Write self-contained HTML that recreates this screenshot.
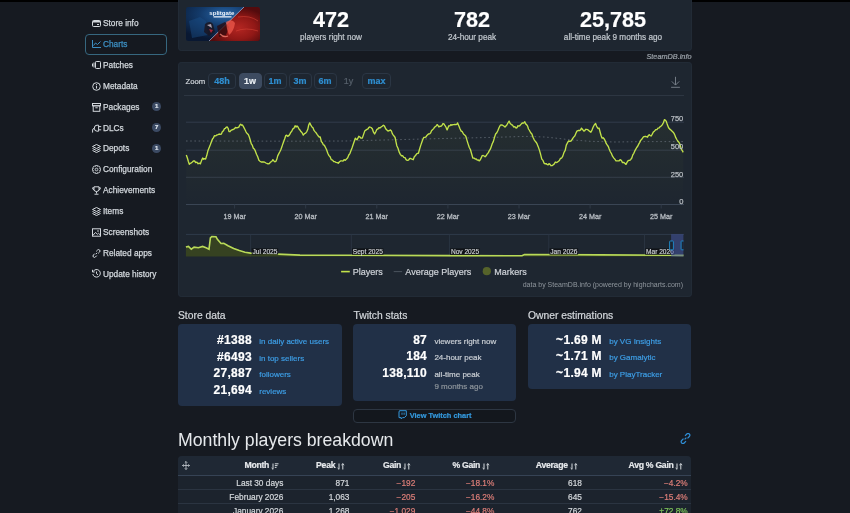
<!DOCTYPE html>
<html><head><meta charset="utf-8">
<style>
*{box-sizing:border-box;margin:0;padding:0}
html,body{width:850px;height:513px;overflow:hidden;background:#161a21;font-family:"Liberation Sans",Arial,sans-serif;color:#c7ccd2;-webkit-text-stroke:0.2px currentColor}
.abs{position:absolute}
#topbar{left:0;top:0;width:850px;height:2px;background:#000}
/* sidebar */
.nav{position:absolute;left:92px;font-size:8.3px;color:#d3d8dd;-webkit-text-stroke:0.25px currentColor;line-height:10px;white-space:nowrap}
.nav svg{position:absolute;left:0;top:1px}
.nav span{position:absolute;left:11px;top:0}
.badge{position:absolute;left:152.2px;width:8.8px;height:8.8px;border-radius:50%;background:#3b4a63;color:#dfe6ee;font-size:6px;font-weight:bold;text-align:center;line-height:9px}
#charts-box{left:85px;top:34px;width:82px;height:21px;border:1px solid #36677f;border-radius:4px;background:#151920}
/* panels */
.panel{position:absolute;background:#1e2630;border-radius:4px;box-shadow:inset 0 0 0 1px #222b36}
.stat{position:absolute;top:0;width:141px;text-align:center}
.stat b{display:block;font-size:21.6px;line-height:24px;color:#fff;margin-top:7.6px;letter-spacing:0}
.stat i{display:block;font-style:normal;font-size:8.2px;color:#c3c9cf;line-height:10px;margin-top:1px}
.zb{position:absolute;top:73px;height:16px;border:1px solid #2b3644;border-radius:4px;font-size:9px;font-weight:bold;color:#2f8ed0;text-align:center;line-height:14px}
h3{position:absolute;font-size:10.3px;font-weight:normal;color:#d4d8dc;white-space:nowrap}
.box{position:absolute;background:#213047;border-radius:4px}
.row{position:absolute;left:0;width:100%;display:flex;align-items:baseline;white-space:nowrap;line-height:14px}
.row .n{width:50%;text-align:right;padding-right:7.8px;font-weight:bold;font-size:12px;color:#fff;letter-spacing:0.3px}
.row .l{width:50%;margin-left:-0.5px;font-size:8px;color:#3d9de4}
.row .g{color:#8d949b}
.row .w{color:#c9ced4}
table{border-collapse:collapse}
</style></head><body>
<div id="topbar" class="abs"></div>

<!-- Sidebar -->
<div id="charts-box" class="abs"></div>
<div class="nav" style="top:18.2px"><svg style="top:1.6px" width="9" height="7" viewBox="0 0 9 7"><rect x="0.5" y="0.5" width="8" height="6" rx="1" fill="none" stroke="#d3d8dd" stroke-width="1"/><rect x="1" y="1" width="7" height="1.5" fill="#d3d8dd"/><rect x="5" y="4" width="2" height="1" fill="#d3d8dd"/></svg><span>Store info</span></div>
<div class="nav" style="top:39.1px;color:#3c8fc2"><svg width="9" height="8" viewBox="0 0 9 8"><path d="M0.5 0 V7.5 H9" fill="none" stroke="#3c8fc2" stroke-width="1"/><path d="M1.5 5.5 L3.5 3 L5.5 4.5 L8.5 1.5" fill="none" stroke="#3c8fc2" stroke-width="1"/></svg><span>Charts</span></div>
<div class="nav" style="top:59.9px"><svg width="9" height="8" viewBox="0 0 9 8"><rect x="3.5" y="0.5" width="5" height="7" rx="0.8" fill="none" stroke="#d3d8dd"/><path d="M2 1.5 V6.5 M0.5 2.5 V5.5" stroke="#d3d8dd" stroke-width="1"/></svg><span>Patches</span></div>
<div class="nav" style="top:80.8px"><svg width="9" height="9" viewBox="0 0 9 9"><circle cx="4.5" cy="4.5" r="3.8" fill="none" stroke="#d3d8dd"/><path d="M4.5 3.8 V6.6" stroke="#d3d8dd" stroke-width="1.1"/><circle cx="4.5" cy="2.6" r="0.6" fill="#d3d8dd"/></svg><span>Metadata</span></div>
<div class="nav" style="top:101.7px"><svg width="9" height="9" viewBox="0 0 9 9"><rect x="0.5" y="0.5" width="8" height="2.3" fill="none" stroke="#d3d8dd"/><rect x="1.2" y="2.8" width="6.6" height="5.5" fill="none" stroke="#d3d8dd"/><path d="M3.3 4.8 H5.7" stroke="#d3d8dd"/></svg><span>Packages</span></div>
<div class="badge" style="top:102.3px">1</div>
<div class="nav" style="top:122.6px"><svg width="10" height="9" viewBox="0 0 10 9"><path d="M0.6 8.6 V6 Q0.6 4.6 2.2 4.4" fill="none" stroke="#d3d8dd" stroke-width="1"/><path d="M6.6 1.2 V7.2 H5 Q2.3 7.2 2.3 4.2 Q2.3 1.2 5 1.2 Z" fill="none" stroke="#d3d8dd" stroke-width="1"/><path d="M6.6 2.6 H9.2 M6.6 5.8 H9.2" stroke="#d3d8dd" stroke-width="1"/></svg><span>DLCs</span></div>
<div class="badge" style="top:123.2px">7</div>
<div class="nav" style="top:143.4px"><svg width="9" height="9" viewBox="0 0 9 9"><path d="M4.5 0.5 L8.5 2.5 L4.5 4.5 L0.5 2.5 Z M0.5 4.5 L4.5 6.5 L8.5 4.5 M0.5 6.5 L4.5 8.5 L8.5 6.5" fill="none" stroke="#d3d8dd" stroke-linejoin="round"/></svg><span>Depots</span></div>
<div class="badge" style="top:144.0px">1</div>
<div class="nav" style="top:164.3px"><svg width="9" height="9" viewBox="0 0 9 9"><path d="M7.38 3.35 L8.59 3.56 L8.59 5.44 L7.38 5.65 L7.35 5.72 L8.06 6.73 L6.73 8.06 L5.72 7.35 L5.65 7.38 L5.44 8.59 L3.56 8.59 L3.35 7.38 L3.28 7.35 L2.27 8.06 L0.94 6.73 L1.65 5.72 L1.62 5.65 L0.41 5.44 L0.41 3.56 L1.62 3.35 L1.65 3.28 L0.94 2.27 L2.27 0.94 L3.28 1.65 L3.35 1.62 L3.56 0.41 L5.44 0.41 L5.65 1.62 L5.72 1.65 L6.73 0.94 L8.06 2.27 L7.35 3.28 Z" fill="none" stroke="#d3d8dd" stroke-width="0.9" stroke-linejoin="round"/><circle cx="4.5" cy="4.5" r="1.3" fill="none" stroke="#d3d8dd" stroke-width="0.9"/></svg><span>Configuration</span></div>
<div class="nav" style="top:185.2px"><svg width="9" height="9" viewBox="0 0 9 9"><path d="M2 0.8 H7 V3.5 Q7 5.5 4.5 5.5 Q2 5.5 2 3.5 Z M4.5 5.5 V7.5 M2.5 8.2 H6.5 M2 1.8 H0.6 Q0.6 3.8 2.2 4 M7 1.8 H8.4 Q8.4 3.8 6.8 4" fill="none" stroke="#d3d8dd"/></svg><span>Achievements</span></div>
<div class="nav" style="top:206.0px"><svg width="9" height="9" viewBox="0 0 9 9"><path d="M4.5 0.5 L8.5 2.5 L4.5 4.5 L0.5 2.5 Z M0.5 4.5 L4.5 6.5 L8.5 4.5 M0.5 6.5 L4.5 8.5 L8.5 6.5" fill="none" stroke="#d3d8dd" stroke-linejoin="round"/></svg><span>Items</span></div>
<div class="nav" style="top:226.9px"><svg width="9" height="9" viewBox="0 0 9 9"><rect x="0.5" y="0.8" width="8" height="7.4" fill="none" stroke="#d3d8dd"/><path d="M0.8 7.5 L3.5 4.5 L5.5 6.2 L6.5 5.3 L8.3 7" fill="none" stroke="#d3d8dd"/><circle cx="6" cy="3" r="0.8" fill="#d3d8dd"/></svg><span>Screenshots</span></div>
<div class="nav" style="top:247.8px"><svg width="9" height="9" viewBox="0 0 9 9"><path d="M3.8 5.2 L5.2 3.8 M4.2 2.4 L5.6 1 Q6.6 0 7.6 1 Q8.6 2 7.6 3 L6.2 4.4 M4.8 6.6 L3.4 8 Q2.4 9 1.4 8 Q0.4 7 1.4 6 L2.8 4.6" fill="none" stroke="#d3d8dd"/></svg><span>Related apps</span></div>
<div class="nav" style="top:268.6px"><svg style="top:0" width="9" height="9" viewBox="0 0 9 9"><path d="M1.2 2.5 A3.8 3.8 0 1 1 0.8 5" fill="none" stroke="#d3d8dd"/><path d="M0.5 0.8 V3 H2.7" fill="none" stroke="#d3d8dd"/><path d="M4.5 2.5 V4.7 L6 5.8" fill="none" stroke="#d3d8dd"/></svg><span>Update history</span></div>

<!-- header panel -->
<div class="panel" style="left:178px;top:-4px;width:513.5px;height:55px"></div>
<div class="abs" style="left:186.4px;top:7.4px;width:74px;height:34px;border-radius:2px;overflow:hidden">
<svg width="74" height="34" viewBox="0 0 74 34">
<defs>
<radialGradient id="gb" cx="0.52" cy="0.22" r="0.75"><stop offset="0" stop-color="#2866a8"/><stop offset="0.45" stop-color="#133a6a"/><stop offset="1" stop-color="#091832"/></radialGradient>
<radialGradient id="gr" cx="0.58" cy="0.62" r="0.6"><stop offset="0" stop-color="#b42622"/><stop offset="0.55" stop-color="#911816"/><stop offset="1" stop-color="#530b0d"/></radialGradient>
</defs>
<rect width="74" height="34" fill="url(#gb)"/>
<path d="M58 0 H74 V34 H23 Z" fill="url(#gr)"/>
<path d="M58 0 L23 34" stroke="#a9bde0" stroke-width="0.7"/>
<text x="35.8" y="7.6" font-size="6.1" font-weight="bold" fill="#eef3fa" text-anchor="middle" font-family="Liberation Sans" style="-webkit-text-stroke:0">splitgate</text>
<rect x="27.5" y="9.2" width="18" height="1.3" fill="#e2eaf6"/>
<path d="M3 14 L14 10 L20 14 L22 28 L6 31 Z" fill="#1a4f8a" opacity="0.45"/>
<path d="M19 17 Q24 13 27 17 L29 25 L23 29 L18 25 Z" fill="#1a1622" opacity="0.85"/>
<path d="M21 18 L25 17 L26 21 Z" fill="#e9d9e6" opacity="0.7"/>
<path d="M23 22 L27 23 L25 26 Z" fill="#c4243a" opacity="0.8"/>
<path d="M31 19 L39 15 L43 20 L40 28 L33 30 Z" fill="#2a0a0e" opacity="0.75"/>
<path d="M40 15 Q46 11 49 16 Q48 24 43 28 L41 22 Z" fill="#ef5a4c" opacity="0.75"/>
<path d="M34 27 Q38 31 42 29" stroke="#f08070" stroke-width="1.2" fill="none" opacity="0.8"/>
<path d="M52 10 Q64 8 72 14 M50 24 Q60 20 72 24" stroke="#e04a3c" stroke-width="1" fill="none" opacity="0.5"/>
</svg></div>
<div class="stat" style="left:260.5px"><b>472</b><i>players right now</i></div>
<div class="stat" style="left:401.5px"><b>782</b><i>24-hour peak</i></div>
<div class="stat" style="left:542.5px"><b>25,785</b><i>all-time peak 9 months ago</i></div>
<div class="abs" style="left:600px;top:51.6px;width:91.5px;text-align:right;font-size:7.3px;font-style:italic;color:#9aa1a8;line-height:10px">SteamDB.info</div>

<!-- chart panel -->
<div class="panel" style="left:178px;top:62px;width:513.5px;height:235px"></div>
<div class="abs" style="left:185.5px;top:76.5px;font-size:7.7px;color:#d0d5da;line-height:10px">Zoom</div>
<div class="zb" style="left:208px;width:28px">48h</div>
<div class="zb" style="left:238.5px;width:23px;background:#3d4b60;border-color:#3d4b60;color:#e8edf2">1w</div>
<div class="zb" style="left:263.5px;width:23px">1m</div>
<div class="zb" style="left:288.5px;width:23px">3m</div>
<div class="zb" style="left:313.5px;width:23px">6m</div>
<div class="zb" style="left:338.5px;width:20px;border-color:transparent;color:#56606b;font-weight:normal">1y</div>
<div class="zb" style="left:362px;width:29px">max</div>
<svg class="abs" style="left:669px;top:75px" width="14" height="14" viewBox="0 0 14 14"><path d="M6.5 1.8 V10 M2.8 6.4 L6.5 10.1 L10.2 6.4 M2.1 12.3 H10.9" fill="none" stroke="#7d858f" stroke-width="0.9"/></svg>
<div class="abs" style="left:184px;top:95px;width:500px;height:1px;background:#2d3642"></div>

<svg class="abs" style="left:0;top:0" width="850" height="300" viewBox="0 0 850 300">
<defs><linearGradient id="af" x1="0" y1="0" x2="0" y2="1"><stop offset="0" stop-color="#c5e32b" stop-opacity="0.045"/><stop offset="1" stop-color="#c5e32b" stop-opacity="0.0"/></linearGradient></defs>
<path d="M186 122.2 H684" stroke="#323c4a" stroke-width="1"/>
<path d="M186 150.2 H684" stroke="#323c4a" stroke-width="1"/>
<path d="M186 177.3 H684" stroke="#323c4a" stroke-width="1"/>
<path d="M186.3,155.0 L187.3,157.7 L188.3,161.3 L189.3,164.4 L190.3,163.3 L191.4,162.8 L192.4,162.0 L193.4,160.9 L194.6,161.0 L195.7,162.6 L196.9,162.1 L198.1,163.8 L199.2,163.1 L200.4,163.8 L201.6,160.4 L202.7,158.0 L203.7,159.2 L204.6,158.7 L205.6,159.1 L206.8,155.3 L208.0,150.4 L209.2,147.4 L210.3,144.8 L211.5,141.6 L212.5,139.0 L213.4,137.9 L214.4,135.7 L215.6,135.9 L216.8,134.9 L217.9,134.8 L219.1,134.0 L220.2,134.3 L221.4,134.0 L222.4,131.5 L223.4,130.9 L224.4,128.7 L225.4,128.3 L226.3,127.2 L227.3,127.0 L228.2,128.5 L229.0,131.6 L230.0,131.7 L231.0,130.4 L232.0,129.9 L233.2,129.5 L234.3,128.9 L235.5,127.5 L236.7,127.9 L237.8,127.5 L238.8,127.1 L239.7,125.2 L240.7,124.3 L241.6,125.2 L242.5,125.0 L243.7,127.1 L244.8,129.3 L246.0,131.8 L247.1,133.5 L248.3,134.6 L249.3,137.0 L250.3,140.2 L251.3,143.9 L252.3,145.2 L253.3,148.2 L254.3,149.0 L255.3,150.9 L256.5,154.2 L257.7,156.8 L258.9,160.3 L260.0,161.2 L261.2,162.0 L262.4,161.8 L263.5,162.0 L264.7,162.2 L265.9,163.0 L267.0,163.5 L268.2,163.8 L269.4,163.5 L270.5,162.1 L271.7,161.5 L272.9,159.7 L273.9,160.9 L274.8,161.7 L275.8,161.5 L276.8,159.3 L277.7,155.9 L278.7,153.9 L279.7,152.0 L280.8,149.7 L281.8,147.1 L282.8,143.9 L283.8,141.3 L284.7,138.8 L285.7,135.7 L286.7,135.2 L287.7,136.3 L288.7,135.7 L289.7,134.5 L290.6,132.6 L291.6,131.6 L292.8,128.9 L293.9,128.3 L295.1,125.8 L296.1,127.0 L297.0,125.9 L298.0,127.0 L299.0,129.0 L299.9,129.9 L300.9,131.6 L302.1,132.8 L303.3,135.1 L304.5,133.6 L305.6,133.2 L306.8,131.6 L307.8,129.3 L308.7,125.0 L309.7,122.9 L310.9,125.1 L312.0,127.0 L313.0,127.8 L314.0,130.4 L315.0,131.6 L316.1,132.8 L317.3,134.6 L318.3,136.0 L319.2,137.0 L320.2,136.9 L321.4,141.6 L322.4,142.8 L323.3,144.8 L324.3,145.1 L325.5,147.5 L326.6,149.8 L327.8,153.3 L329.0,155.6 L330.1,156.8 L331.3,159.7 L332.5,160.1 L333.7,161.5 L334.9,161.7 L336.0,162.4 L337.2,162.6 L338.3,163.2 L339.5,161.8 L340.6,160.9 L341.8,160.9 L343.0,161.1 L344.1,159.7 L345.3,160.3 L346.5,159.1 L347.7,157.8 L348.8,155.0 L350.0,153.3 L351.0,150.5 L352.0,147.9 L353.0,145.1 L354.1,141.8 L355.3,138.1 L356.1,139.1 L357.0,139.8 L357.9,138.2 L358.8,136.3 L360.0,137.1 L361.1,138.2 L362.3,138.1 L363.5,134.6 L364.7,131.1 L365.9,130.1 L367.0,129.3 L368.0,128.9 L368.9,127.3 L369.9,127.0 L371.1,127.5 L372.3,128.7 L373.5,132.2 L374.6,134.0 L375.8,131.7 L376.9,129.3 L377.9,129.0 L378.9,127.7 L379.9,128.1 L381.1,127.0 L382.2,126.3 L383.4,125.2 L384.5,126.1 L385.7,128.7 L386.9,130.1 L388.0,131.1 L389.2,130.7 L390.4,129.9 L391.4,130.9 L392.3,133.6 L393.3,135.1 L394.2,136.2 L395.1,137.5 L396.0,141.9 L396.8,145.7 L398.0,148.3 L399.1,151.9 L400.3,154.4 L401.5,155.8 L402.6,155.6 L403.8,157.4 L405.0,157.6 L406.1,159.6 L407.3,160.3 L408.5,160.2 L409.7,158.5 L410.9,158.5 L412.0,159.2 L413.2,159.7 L414.3,156.8 L415.5,155.5 L416.7,153.9 L417.5,153.3 L418.4,153.3 L419.6,149.0 L420.8,145.1 L421.8,142.2 L422.7,139.8 L423.7,137.5 L424.9,137.4 L426.0,136.9 L426.9,135.4 L427.8,134.6 L428.8,133.8 L429.7,133.9 L430.7,132.8 L431.6,130.5 L432.5,129.9 L433.6,128.6 L434.8,127.0 L436.0,126.2 L437.1,124.6 L438.0,125.5 L438.9,127.0 L439.8,126.2 L440.7,126.4 L441.9,125.5 L443.0,123.5 L443.9,123.9 L444.7,125.2 L445.9,127.0 L447.1,129.9 L448.0,127.7 L448.8,125.8 L449.8,125.9 L450.8,124.7 L451.8,125.2 L453.0,124.6 L454.1,124.6 L455.0,124.3 L455.9,124.6 L456.8,124.3 L457.6,122.9 L458.8,125.7 L460.0,128.7 L461.2,131.1 L462.3,131.7 L463.5,134.0 L464.6,134.9 L465.8,136.3 L467.0,140.4 L468.1,143.9 L469.3,147.5 L470.5,149.8 L471.6,153.8 L472.8,158.0 L474.0,158.1 L475.2,159.1 L476.2,158.9 L477.2,160.1 L478.3,159.9 L479.3,160.9 L480.3,159.7 L481.2,157.9 L482.2,155.6 L483.2,155.5 L484.1,156.0 L485.1,156.8 L486.1,155.8 L487.1,154.1 L488.2,152.9 L489.2,150.9 L490.3,149.2 L491.3,146.4 L492.3,143.5 L493.3,141.6 L494.5,137.4 L495.6,134.0 L496.8,132.7 L497.9,130.5 L499.1,127.5 L500.3,125.2 L501.5,124.9 L502.6,125.2 L503.8,126.0 L505.0,127.0 L505.9,126.0 L506.7,125.2 L507.9,123.0 L509.1,121.1 L510.2,123.6 L511.4,124.6 L512.5,125.2 L513.7,127.0 L514.9,126.7 L516.1,128.1 L517.0,127.7 L517.8,125.8 L518.8,126.0 L519.7,125.8 L520.7,124.6 L521.6,123.6 L522.5,122.9 L523.6,123.1 L524.8,121.7 L525.7,123.9 L526.6,124.6 L527.6,126.1 L528.5,129.0 L529.5,130.5 L530.7,132.8 L531.9,134.0 L533.0,137.2 L534.2,139.8 L535.2,141.2 L536.1,142.2 L537.1,143.9 L538.3,146.9 L539.5,150.4 L540.6,154.3 L541.8,159.1 L543.0,160.4 L544.1,163.2 L545.1,163.8 L546.1,163.6 L547.1,164.4 L548.1,164.9 L549.0,163.6 L550.0,164.4 L551.1,165.7 L552.3,165.6 L553.3,164.7 L554.3,163.9 L555.3,162.0 L556.3,162.5 L557.2,162.3 L558.2,161.5 L559.4,160.5 L560.5,158.3 L561.7,158.0 L562.9,155.9 L564.0,152.4 L565.2,150.4 L566.3,145.1 L567.5,142.7 L568.7,141.0 L569.9,141.3 L571.0,141.0 L572.0,139.7 L572.9,138.1 L573.9,136.9 L574.9,135.7 L575.9,133.2 L576.9,131.1 L577.9,130.6 L578.8,130.3 L579.8,130.5 L580.6,129.9 L581.5,128.1 L582.7,129.6 L583.9,131.1 L584.8,130.7 L585.6,129.3 L586.6,129.4 L587.6,129.6 L588.6,130.5 L589.8,131.4 L590.9,132.2 L592.0,130.1 L593.2,127.0 L594.4,124.7 L595.6,123.5 L596.5,126.0 L597.3,127.5 L598.2,128.5 L599.1,128.1 L600.1,132.0 L601.0,135.3 L602.0,138.1 L603.2,137.8 L604.4,139.2 L605.4,141.4 L606.3,143.7 L607.3,145.1 L608.3,146.5 L609.2,149.0 L610.2,151.5 L611.4,153.5 L612.5,156.2 L613.7,157.8 L614.8,159.2 L616.0,160.9 L617.2,160.9 L618.4,160.9 L619.2,160.8 L620.1,159.7 L621.3,160.3 L622.5,162.6 L623.7,162.4 L624.8,163.2 L626.0,164.4 L627.0,162.4 L627.9,160.9 L628.9,160.3 L629.9,160.3 L630.8,159.4 L631.8,158.0 L632.8,154.9 L633.8,153.3 L634.8,150.9 L635.8,149.1 L636.7,147.5 L637.7,146.3 L638.7,144.1 L639.6,142.6 L640.6,140.4 L641.7,139.3 L642.9,137.6 L644.0,136.6 L645.2,136.3 L646.3,136.7 L647.5,137.2 L648.4,135.4 L649.3,134.8 L650.1,135.5 L651.0,136.0 L652.2,134.3 L653.4,131.9 L654.6,130.9 L655.7,129.7 L656.9,129.6 L658.0,128.2 L659.2,127.8 L660.2,126.6 L661.2,126.0 L662.2,124.9 L663.4,122.7 L664.5,119.6 L665.4,120.3 L666.3,121.4 L667.5,125.1 L668.6,127.8 L669.5,128.9 L670.4,129.6 L671.6,130.7 L672.7,131.7 L673.9,133.1 L674.9,135.2 L675.8,137.7 L676.8,139.5 L678.0,141.3 L678.9,142.3 L679.7,143.6 L680.6,146.8 L681.5,149.4 L682.4,150.8 L683.2,152.4 L683.2,204.5 L186.3,204.5 Z" fill="url(#af)"/>
<path d="M186.0,141.0 L300.0,141.2 L345.0,141.0 L400.0,139.6 L440.0,138.6 L492.0,137.4 L525.0,136.4 L545.0,137.0 L560.0,138.6 L568.0,139.6 L590.0,141.3 L615.0,142.0 L644.0,141.6 L683.5,141.6" fill="none" stroke="#6a727d" stroke-width="0.7" stroke-dasharray="1.6 2.6"/>
<path d="M186.3,155.0 L187.3,157.7 L188.3,161.3 L189.3,164.4 L190.3,163.3 L191.4,162.8 L192.4,162.0 L193.4,160.9 L194.6,161.0 L195.7,162.6 L196.9,162.1 L198.1,163.8 L199.2,163.1 L200.4,163.8 L201.6,160.4 L202.7,158.0 L203.7,159.2 L204.6,158.7 L205.6,159.1 L206.8,155.3 L208.0,150.4 L209.2,147.4 L210.3,144.8 L211.5,141.6 L212.5,139.0 L213.4,137.9 L214.4,135.7 L215.6,135.9 L216.8,134.9 L217.9,134.8 L219.1,134.0 L220.2,134.3 L221.4,134.0 L222.4,131.5 L223.4,130.9 L224.4,128.7 L225.4,128.3 L226.3,127.2 L227.3,127.0 L228.2,128.5 L229.0,131.6 L230.0,131.7 L231.0,130.4 L232.0,129.9 L233.2,129.5 L234.3,128.9 L235.5,127.5 L236.7,127.9 L237.8,127.5 L238.8,127.1 L239.7,125.2 L240.7,124.3 L241.6,125.2 L242.5,125.0 L243.7,127.1 L244.8,129.3 L246.0,131.8 L247.1,133.5 L248.3,134.6 L249.3,137.0 L250.3,140.2 L251.3,143.9 L252.3,145.2 L253.3,148.2 L254.3,149.0 L255.3,150.9 L256.5,154.2 L257.7,156.8 L258.9,160.3 L260.0,161.2 L261.2,162.0 L262.4,161.8 L263.5,162.0 L264.7,162.2 L265.9,163.0 L267.0,163.5 L268.2,163.8 L269.4,163.5 L270.5,162.1 L271.7,161.5 L272.9,159.7 L273.9,160.9 L274.8,161.7 L275.8,161.5 L276.8,159.3 L277.7,155.9 L278.7,153.9 L279.7,152.0 L280.8,149.7 L281.8,147.1 L282.8,143.9 L283.8,141.3 L284.7,138.8 L285.7,135.7 L286.7,135.2 L287.7,136.3 L288.7,135.7 L289.7,134.5 L290.6,132.6 L291.6,131.6 L292.8,128.9 L293.9,128.3 L295.1,125.8 L296.1,127.0 L297.0,125.9 L298.0,127.0 L299.0,129.0 L299.9,129.9 L300.9,131.6 L302.1,132.8 L303.3,135.1 L304.5,133.6 L305.6,133.2 L306.8,131.6 L307.8,129.3 L308.7,125.0 L309.7,122.9 L310.9,125.1 L312.0,127.0 L313.0,127.8 L314.0,130.4 L315.0,131.6 L316.1,132.8 L317.3,134.6 L318.3,136.0 L319.2,137.0 L320.2,136.9 L321.4,141.6 L322.4,142.8 L323.3,144.8 L324.3,145.1 L325.5,147.5 L326.6,149.8 L327.8,153.3 L329.0,155.6 L330.1,156.8 L331.3,159.7 L332.5,160.1 L333.7,161.5 L334.9,161.7 L336.0,162.4 L337.2,162.6 L338.3,163.2 L339.5,161.8 L340.6,160.9 L341.8,160.9 L343.0,161.1 L344.1,159.7 L345.3,160.3 L346.5,159.1 L347.7,157.8 L348.8,155.0 L350.0,153.3 L351.0,150.5 L352.0,147.9 L353.0,145.1 L354.1,141.8 L355.3,138.1 L356.1,139.1 L357.0,139.8 L357.9,138.2 L358.8,136.3 L360.0,137.1 L361.1,138.2 L362.3,138.1 L363.5,134.6 L364.7,131.1 L365.9,130.1 L367.0,129.3 L368.0,128.9 L368.9,127.3 L369.9,127.0 L371.1,127.5 L372.3,128.7 L373.5,132.2 L374.6,134.0 L375.8,131.7 L376.9,129.3 L377.9,129.0 L378.9,127.7 L379.9,128.1 L381.1,127.0 L382.2,126.3 L383.4,125.2 L384.5,126.1 L385.7,128.7 L386.9,130.1 L388.0,131.1 L389.2,130.7 L390.4,129.9 L391.4,130.9 L392.3,133.6 L393.3,135.1 L394.2,136.2 L395.1,137.5 L396.0,141.9 L396.8,145.7 L398.0,148.3 L399.1,151.9 L400.3,154.4 L401.5,155.8 L402.6,155.6 L403.8,157.4 L405.0,157.6 L406.1,159.6 L407.3,160.3 L408.5,160.2 L409.7,158.5 L410.9,158.5 L412.0,159.2 L413.2,159.7 L414.3,156.8 L415.5,155.5 L416.7,153.9 L417.5,153.3 L418.4,153.3 L419.6,149.0 L420.8,145.1 L421.8,142.2 L422.7,139.8 L423.7,137.5 L424.9,137.4 L426.0,136.9 L426.9,135.4 L427.8,134.6 L428.8,133.8 L429.7,133.9 L430.7,132.8 L431.6,130.5 L432.5,129.9 L433.6,128.6 L434.8,127.0 L436.0,126.2 L437.1,124.6 L438.0,125.5 L438.9,127.0 L439.8,126.2 L440.7,126.4 L441.9,125.5 L443.0,123.5 L443.9,123.9 L444.7,125.2 L445.9,127.0 L447.1,129.9 L448.0,127.7 L448.8,125.8 L449.8,125.9 L450.8,124.7 L451.8,125.2 L453.0,124.6 L454.1,124.6 L455.0,124.3 L455.9,124.6 L456.8,124.3 L457.6,122.9 L458.8,125.7 L460.0,128.7 L461.2,131.1 L462.3,131.7 L463.5,134.0 L464.6,134.9 L465.8,136.3 L467.0,140.4 L468.1,143.9 L469.3,147.5 L470.5,149.8 L471.6,153.8 L472.8,158.0 L474.0,158.1 L475.2,159.1 L476.2,158.9 L477.2,160.1 L478.3,159.9 L479.3,160.9 L480.3,159.7 L481.2,157.9 L482.2,155.6 L483.2,155.5 L484.1,156.0 L485.1,156.8 L486.1,155.8 L487.1,154.1 L488.2,152.9 L489.2,150.9 L490.3,149.2 L491.3,146.4 L492.3,143.5 L493.3,141.6 L494.5,137.4 L495.6,134.0 L496.8,132.7 L497.9,130.5 L499.1,127.5 L500.3,125.2 L501.5,124.9 L502.6,125.2 L503.8,126.0 L505.0,127.0 L505.9,126.0 L506.7,125.2 L507.9,123.0 L509.1,121.1 L510.2,123.6 L511.4,124.6 L512.5,125.2 L513.7,127.0 L514.9,126.7 L516.1,128.1 L517.0,127.7 L517.8,125.8 L518.8,126.0 L519.7,125.8 L520.7,124.6 L521.6,123.6 L522.5,122.9 L523.6,123.1 L524.8,121.7 L525.7,123.9 L526.6,124.6 L527.6,126.1 L528.5,129.0 L529.5,130.5 L530.7,132.8 L531.9,134.0 L533.0,137.2 L534.2,139.8 L535.2,141.2 L536.1,142.2 L537.1,143.9 L538.3,146.9 L539.5,150.4 L540.6,154.3 L541.8,159.1 L543.0,160.4 L544.1,163.2 L545.1,163.8 L546.1,163.6 L547.1,164.4 L548.1,164.9 L549.0,163.6 L550.0,164.4 L551.1,165.7 L552.3,165.6 L553.3,164.7 L554.3,163.9 L555.3,162.0 L556.3,162.5 L557.2,162.3 L558.2,161.5 L559.4,160.5 L560.5,158.3 L561.7,158.0 L562.9,155.9 L564.0,152.4 L565.2,150.4 L566.3,145.1 L567.5,142.7 L568.7,141.0 L569.9,141.3 L571.0,141.0 L572.0,139.7 L572.9,138.1 L573.9,136.9 L574.9,135.7 L575.9,133.2 L576.9,131.1 L577.9,130.6 L578.8,130.3 L579.8,130.5 L580.6,129.9 L581.5,128.1 L582.7,129.6 L583.9,131.1 L584.8,130.7 L585.6,129.3 L586.6,129.4 L587.6,129.6 L588.6,130.5 L589.8,131.4 L590.9,132.2 L592.0,130.1 L593.2,127.0 L594.4,124.7 L595.6,123.5 L596.5,126.0 L597.3,127.5 L598.2,128.5 L599.1,128.1 L600.1,132.0 L601.0,135.3 L602.0,138.1 L603.2,137.8 L604.4,139.2 L605.4,141.4 L606.3,143.7 L607.3,145.1 L608.3,146.5 L609.2,149.0 L610.2,151.5 L611.4,153.5 L612.5,156.2 L613.7,157.8 L614.8,159.2 L616.0,160.9 L617.2,160.9 L618.4,160.9 L619.2,160.8 L620.1,159.7 L621.3,160.3 L622.5,162.6 L623.7,162.4 L624.8,163.2 L626.0,164.4 L627.0,162.4 L627.9,160.9 L628.9,160.3 L629.9,160.3 L630.8,159.4 L631.8,158.0 L632.8,154.9 L633.8,153.3 L634.8,150.9 L635.8,149.1 L636.7,147.5 L637.7,146.3 L638.7,144.1 L639.6,142.6 L640.6,140.4 L641.7,139.3 L642.9,137.6 L644.0,136.6 L645.2,136.3 L646.3,136.7 L647.5,137.2 L648.4,135.4 L649.3,134.8 L650.1,135.5 L651.0,136.0 L652.2,134.3 L653.4,131.9 L654.6,130.9 L655.7,129.7 L656.9,129.6 L658.0,128.2 L659.2,127.8 L660.2,126.6 L661.2,126.0 L662.2,124.9 L663.4,122.7 L664.5,119.6 L665.4,120.3 L666.3,121.4 L667.5,125.1 L668.6,127.8 L669.5,128.9 L670.4,129.6 L671.6,130.7 L672.7,131.7 L673.9,133.1 L674.9,135.2 L675.8,137.7 L676.8,139.5 L678.0,141.3 L678.9,142.3 L679.7,143.6 L680.6,146.8 L681.5,149.4 L682.4,150.8 L683.2,152.4" fill="none" stroke="#c2e24a" stroke-width="1.35" stroke-linejoin="round"/>
<path d="M186 204.5 H684" stroke="#3a4554" stroke-width="1"/>
<path d="M234.6 204.5 V208.5" stroke="#2f3946" stroke-width="1"/>
<text x="234.6" y="218.6" font-size="7.2" fill="#b6bbc1" stroke="#b6bbc1" stroke-width="0.3" text-anchor="middle" font-family="Liberation Sans">19 Mar</text>
<path d="M305.7 204.5 V208.5" stroke="#2f3946" stroke-width="1"/>
<text x="305.7" y="218.6" font-size="7.2" fill="#b6bbc1" stroke="#b6bbc1" stroke-width="0.3" text-anchor="middle" font-family="Liberation Sans">20 Mar</text>
<path d="M376.8 204.5 V208.5" stroke="#2f3946" stroke-width="1"/>
<text x="376.8" y="218.6" font-size="7.2" fill="#b6bbc1" stroke="#b6bbc1" stroke-width="0.3" text-anchor="middle" font-family="Liberation Sans">21 Mar</text>
<path d="M447.9 204.5 V208.5" stroke="#2f3946" stroke-width="1"/>
<text x="447.9" y="218.6" font-size="7.2" fill="#b6bbc1" stroke="#b6bbc1" stroke-width="0.3" text-anchor="middle" font-family="Liberation Sans">22 Mar</text>
<path d="M519.0 204.5 V208.5" stroke="#2f3946" stroke-width="1"/>
<text x="519.0" y="218.6" font-size="7.2" fill="#b6bbc1" stroke="#b6bbc1" stroke-width="0.3" text-anchor="middle" font-family="Liberation Sans">23 Mar</text>
<path d="M590.1 204.5 V208.5" stroke="#2f3946" stroke-width="1"/>
<text x="590.1" y="218.6" font-size="7.2" fill="#b6bbc1" stroke="#b6bbc1" stroke-width="0.3" text-anchor="middle" font-family="Liberation Sans">24 Mar</text>
<path d="M661.2 204.5 V208.5" stroke="#2f3946" stroke-width="1"/>
<text x="661.2" y="218.6" font-size="7.2" fill="#b6bbc1" stroke="#b6bbc1" stroke-width="0.3" text-anchor="middle" font-family="Liberation Sans">25 Mar</text>
<text x="683.3" y="121.4" font-size="7.5" fill="#b6bbc1" stroke="#b6bbc1" stroke-width="0.25" text-anchor="end" font-family="Liberation Sans">750</text>
<text x="683.3" y="149.4" font-size="7.5" fill="#b6bbc1" stroke="#b6bbc1" stroke-width="0.25" text-anchor="end" font-family="Liberation Sans">500</text>
<text x="683.3" y="176.5" font-size="7.5" fill="#b6bbc1" stroke="#b6bbc1" stroke-width="0.25" text-anchor="end" font-family="Liberation Sans">250</text>
<text x="683.3" y="203.7" font-size="7.5" fill="#b6bbc1" stroke="#b6bbc1" stroke-width="0.25" text-anchor="end" font-family="Liberation Sans">0</text>
<path d="M186 234.4 H684" stroke="#334050" stroke-width="0.8"/>
<path d="M250.6 234.4 V256.5" stroke="#2c3745" stroke-width="0.8"/>
<path d="M351.3 234.4 V256.5" stroke="#2c3745" stroke-width="0.8"/>
<path d="M449.4 234.4 V256.5" stroke="#2c3745" stroke-width="0.8"/>
<path d="M548.8 234.4 V256.5" stroke="#2c3745" stroke-width="0.8"/>
<path d="M644.5 234.4 V256.5" stroke="#2c3745" stroke-width="0.8"/>
<path d="M185.9,247.1 L188.5,246.4 L191.3,249.2 L194.1,247.1 L198.4,247.8 L202.6,246.4 L206.1,247.8 L209.0,249.2 L210.4,237.9 L211.8,236.5 L216.0,236.8 L217.4,239.3 L221.0,243.5 L223.8,243.3 L228.0,245.7 L233.7,248.5 L239.3,250.6 L245.0,252.3 L250.6,253.1 L265.0,253.8 L277.5,254.1 L300.0,255.1 L350.0,255.3 L450.0,255.6 L522.0,255.8 L524.5,254.6 L530.0,254.5 L600.0,254.9 L671.0,255.2 L683.5,255.4 L683.5,256.6 L185.9,256.6 Z" fill="#4a5a16" fill-opacity="0.55"/>
<path d="M185.9,247.1 L188.5,246.4 L191.3,249.2 L194.1,247.1 L198.4,247.8 L202.6,246.4 L206.1,247.8 L209.0,249.2 L210.4,237.9 L211.8,236.5 L216.0,236.8 L217.4,239.3 L221.0,243.5 L223.8,243.3 L228.0,245.7 L233.7,248.5 L239.3,250.6 L245.0,252.3 L250.6,253.1 L265.0,253.8 L277.5,254.1 L300.0,255.1 L350.0,255.3 L450.0,255.6 L522.0,255.8 L524.5,254.6 L530.0,254.5 L600.0,254.9 L671.0,255.2 L683.5,255.4" fill="none" stroke="#b9da58" stroke-width="1.6"/>
<rect x="251.7" y="248.4" width="26.400000000000002" height="6.3" fill="#0e1115" fill-opacity="0.9"/>
<text x="252.5" y="254.1" font-size="6.6" fill="#d0d4d8" stroke="#d0d4d8" stroke-width="0.15" font-family="Liberation Sans">Jul 2025</text>
<rect x="352.0" y="248.4" width="31.400000000000002" height="6.3" fill="#0e1115" fill-opacity="0.9"/>
<text x="352.8" y="254.1" font-size="6.6" fill="#d0d4d8" stroke="#d0d4d8" stroke-width="0.15" font-family="Liberation Sans">Sept 2025</text>
<rect x="450.09999999999997" y="248.4" width="29.6" height="6.3" fill="#0e1115" fill-opacity="0.9"/>
<text x="450.9" y="254.1" font-size="6.6" fill="#d0d4d8" stroke="#d0d4d8" stroke-width="0.15" font-family="Liberation Sans">Nov 2025</text>
<rect x="549.5" y="248.4" width="28.6" height="6.3" fill="#0e1115" fill-opacity="0.9"/>
<text x="550.3" y="254.1" font-size="6.6" fill="#d0d4d8" stroke="#d0d4d8" stroke-width="0.15" font-family="Liberation Sans">Jan 2026</text>
<rect x="645.2" y="248.4" width="29.3" height="6.3" fill="#0e1115" fill-opacity="0.9"/>
<text x="646" y="254.1" font-size="6.6" fill="#d0d4d8" stroke="#d0d4d8" stroke-width="0.15" font-family="Liberation Sans">Mar 2026</text>
<rect x="671.1" y="234.2" width="12.3" height="22.4" fill="#4655a0" fill-opacity="0.55"/>
<rect x="669.6" y="241" width="3.8" height="8.8" rx="0.6" fill="#1c2633" stroke="#1e8fd0" stroke-width="0.9"/>
<clipPath id="hc"><rect x="660" y="230" width="23.5" height="30"/></clipPath><rect clip-path="url(#hc)" x="681.1" y="241" width="3.8" height="8.8" rx="0.6" fill="#1c2633" stroke="#1e8fd0" stroke-width="0.9"/>
<path d="M341.1 271.6 H349.8" stroke="#c2e24a" stroke-width="1.6"/>
<text x="352.7" y="275" font-size="9" fill="#cfd3d8" stroke="#cfd3d8" stroke-width="0.2" font-family="Liberation Sans">Players</text>
<path d="M393.7 271.6 H402.1" stroke="#4b535d" stroke-width="1"/>
<text x="405.3" y="275" font-size="9" fill="#cfd3d8" stroke="#cfd3d8" stroke-width="0.2" font-family="Liberation Sans">Average Players</text>
<circle cx="486.8" cy="271.2" r="4.1" fill="#56632a"/>
<text x="494.2" y="275" font-size="9" fill="#cfd3d8" stroke="#cfd3d8" stroke-width="0.2" font-family="Liberation Sans">Markers</text>
<text x="683" y="286.6" font-size="7" fill="#8f969d" text-anchor="end" font-family="Liberation Sans">data by SteamDB.info (powered by highcharts.com)</text>
</svg>

<!-- sections -->
<h3 style="left:178px;top:309.9px">Store data</h3>
<h3 style="left:353.5px;top:309.9px">Twitch stats</h3>
<h3 style="left:528px;top:309.9px">Owner estimations</h3>

<div class="box" style="left:178px;top:324px;width:163.5px;height:81.5px">
 <div class="row" style="top:9.2px"><span class="n">#1388</span><span class="l">in daily active users</span></div>
 <div class="row" style="top:25.7px"><span class="n">#6493</span><span class="l">in top sellers</span></div>
 <div class="row" style="top:42.2px"><span class="n">27,887</span><span class="l">followers</span></div>
 <div class="row" style="top:58.6px"><span class="n">21,694</span><span class="l">reviews</span></div>
</div>
<div class="box" style="left:353.3px;top:324px;width:163.2px;height:76.6px">
 <div class="row" style="top:9.2px"><span class="n">87</span><span class="l w">viewers right now</span></div>
 <div class="row" style="top:25.1px"><span class="n">184</span><span class="l w">24-hour peak</span></div>
 <div class="row" style="top:42.2px"><span class="n">138,110</span><span class="l w">all-time peak</span></div>
 <div class="row" style="top:55.6px"><span class="n"></span><span class="l g">9 months ago</span></div>
</div>
<div class="abs" style="left:353.3px;top:408.5px;width:163.2px;height:14px;border:1px solid #2d3642;border-radius:4px;background:#13171d;text-align:center;font-size:7.4px;font-weight:bold;color:#3498dc;line-height:12px"><svg width="9" height="10" viewBox="0 0 9 10" style="vertical-align:-2px;margin-right:2.5px"><path d="M1.5 0.7 H8.3 V5.8 L6.3 7.6 H4.6 L3.2 9 V7.6 H1 V2 Z" fill="none" stroke="#3498dc" stroke-width="1"/><path d="M4 2.6 V4.8 M6.1 2.6 V4.8" stroke="#3498dc" stroke-width="0.9"/></svg>View Twitch chart</div>
<div class="box" style="left:528px;top:324.2px;width:163.4px;height:65px">
 <div class="row" style="top:9.2px"><span class="n">~1.69 M</span><span class="l">by VG Insights</span></div>
 <div class="row" style="top:24.9px"><span class="n">~1.71 M</span><span class="l">by Gamalytic</span></div>
 <div class="row" style="top:41.6px"><span class="n">~1.94 M</span><span class="l">by PlayTracker</span></div>
</div>

<div class="abs" style="left:178px;top:428.6px;font-size:17.7px;color:#e6e9ec;line-height:22px;white-space:nowrap;-webkit-text-stroke:0">Monthly players breakdown</div>
<svg class="abs" style="left:680px;top:433px" width="11" height="11" viewBox="0 0 11 11"><path d="M4.6 6.4 L6.4 4.6 M5 2.8 L6.8 1 Q8 -0.2 9.3 1 Q10.5 2.3 9.3 3.5 L7.5 5.3 M6 8.2 L4.2 10 Q3 11.2 1.7 10 Q0.5 8.7 1.7 7.5 L3.5 5.7" fill="none" stroke="#2f8ed6" stroke-width="1.2"/></svg>

<div class="abs" style="left:178px;top:456px;width:513px;height:60px;background:#1c232d;border-radius:4px 4px 0 0;overflow:hidden">
<div class="abs" style="left:0;top:0;width:513px;height:19px;background:#1f2834"></div>
<div class="abs" style="left:0;top:19px;width:513px;height:1px;background:#364355"></div>
<div class="abs" style="left:0;top:33.2px;width:513px;height:1px;background:#2b3441"></div>
<div class="abs" style="left:0;top:47.3px;width:513px;height:1px;background:#2b3441"></div>
<svg class="abs" style="left:4.4px;top:5px" width="8" height="9" viewBox="0 0 8 9"><path d="M4 0.5 V8.5 M0.5 4.5 H7.5 M2.8 1.7 L4 0.5 L5.2 1.7 M2.8 7.3 L4 8.5 L5.2 7.3 M1.7 3.3 L0.5 4.5 L1.7 5.7 M6.3 3.3 L7.5 4.5 L6.3 5.7" fill="none" stroke="#c9ced4" stroke-width="0.8"/></svg>
<div class="abs" style="right:412.1px;top:4.3px;font-size:8.7px;font-weight:bold;color:#e6e9ec;line-height:10px;white-space:nowrap;letter-spacing:-0.3px">Month<svg width="8" height="7" viewBox="0 0 8 7" style="margin-left:1.8px;vertical-align:-1.3px"><path d="M2 0.5 V6.3 M0.6 5 L2 6.3 M3.8 0.8 H7.5 M3.8 2.6 H6.5 M3.8 4.4 H5.5" fill="none" stroke="#d5dade" stroke-width="1"/></svg></div>
<div class="abs" style="right:346.0px;top:4.3px;font-size:8.7px;font-weight:bold;color:#e6e9ec;line-height:10px;white-space:nowrap;letter-spacing:-0.3px">Peak<svg width="8" height="7" viewBox="0 0 8 7" style="margin-left:1.8px;vertical-align:-1.3px"><path d="M2 0.5 V6.3 M0.6 5 L2 6.3 M5.8 6.5 V0.7 M4.4 2 L5.8 0.7 L7.2 2" fill="none" stroke="#d5dade" stroke-width="1"/></svg></div>
<div class="abs" style="right:280.1px;top:4.3px;font-size:8.7px;font-weight:bold;color:#e6e9ec;line-height:10px;white-space:nowrap;letter-spacing:-0.3px">Gain<svg width="8" height="7" viewBox="0 0 8 7" style="margin-left:1.8px;vertical-align:-1.3px"><path d="M2 0.5 V6.3 M0.6 5 L2 6.3 M5.8 6.5 V0.7 M4.4 2 L5.8 0.7 L7.2 2" fill="none" stroke="#d5dade" stroke-width="1"/></svg></div>
<div class="abs" style="right:201.1px;top:4.3px;font-size:8.7px;font-weight:bold;color:#e6e9ec;line-height:10px;white-space:nowrap;letter-spacing:-0.3px">% Gain<svg width="8" height="7" viewBox="0 0 8 7" style="margin-left:1.8px;vertical-align:-1.3px"><path d="M2 0.5 V6.3 M0.6 5 L2 6.3 M5.8 6.5 V0.7 M4.4 2 L5.8 0.7 L7.2 2" fill="none" stroke="#d5dade" stroke-width="1"/></svg></div>
<div class="abs" style="right:113.5px;top:4.3px;font-size:8.7px;font-weight:bold;color:#e6e9ec;line-height:10px;white-space:nowrap;letter-spacing:-0.3px">Average<svg width="8" height="7" viewBox="0 0 8 7" style="margin-left:1.8px;vertical-align:-1.3px"><path d="M2 0.5 V6.3 M0.6 5 L2 6.3 M5.8 6.5 V0.7 M4.4 2 L5.8 0.7 L7.2 2" fill="none" stroke="#d5dade" stroke-width="1"/></svg></div>
<div class="abs" style="right:7.7px;top:4.3px;font-size:8.7px;font-weight:bold;color:#e6e9ec;line-height:10px;white-space:nowrap;letter-spacing:-0.3px">Avg % Gain<svg width="8" height="7" viewBox="0 0 8 7" style="margin-left:1.8px;vertical-align:-1.3px"><path d="M2 0.5 V6.3 M0.6 5 L2 6.3 M5.8 6.5 V0.7 M4.4 2 L5.8 0.7 L7.2 2" fill="none" stroke="#d5dade" stroke-width="1"/></svg></div>
<div class="abs" style="right:407.7px;top:21.7px;font-size:8.3px;color:#d4d8dc;line-height:10px;white-space:nowrap">Last 30 days</div>
<div class="abs" style="right:341.6px;top:21.7px;font-size:8.3px;color:#d4d8dc;line-height:10px;white-space:nowrap">871</div>
<div class="abs" style="right:275.7px;top:21.7px;font-size:8.3px;color:#dc7e78;line-height:10px;white-space:nowrap">−192</div>
<div class="abs" style="right:196.7px;top:21.7px;font-size:8.3px;color:#dc7e78;line-height:10px;white-space:nowrap">−18.1%</div>
<div class="abs" style="right:109.1px;top:21.7px;font-size:8.3px;color:#d4d8dc;line-height:10px;white-space:nowrap">618</div>
<div class="abs" style="right:3.3px;top:21.7px;font-size:8.3px;color:#dc7e78;line-height:10px;white-space:nowrap">−4.2%</div>
<div class="abs" style="right:407.7px;top:35.8px;font-size:8.3px;color:#d4d8dc;line-height:10px;white-space:nowrap">February 2026</div>
<div class="abs" style="right:341.6px;top:35.8px;font-size:8.3px;color:#d4d8dc;line-height:10px;white-space:nowrap">1,063</div>
<div class="abs" style="right:275.7px;top:35.8px;font-size:8.3px;color:#dc7e78;line-height:10px;white-space:nowrap">−205</div>
<div class="abs" style="right:196.7px;top:35.8px;font-size:8.3px;color:#dc7e78;line-height:10px;white-space:nowrap">−16.2%</div>
<div class="abs" style="right:109.1px;top:35.8px;font-size:8.3px;color:#d4d8dc;line-height:10px;white-space:nowrap">645</div>
<div class="abs" style="right:3.3px;top:35.8px;font-size:8.3px;color:#dc7e78;line-height:10px;white-space:nowrap">−15.4%</div>
<div class="abs" style="right:407.7px;top:49.9px;font-size:8.3px;color:#d4d8dc;line-height:10px;white-space:nowrap">January 2026</div>
<div class="abs" style="right:341.6px;top:49.9px;font-size:8.3px;color:#d4d8dc;line-height:10px;white-space:nowrap">1,268</div>
<div class="abs" style="right:275.7px;top:49.9px;font-size:8.3px;color:#dc7e78;line-height:10px;white-space:nowrap">−1,029</div>
<div class="abs" style="right:196.7px;top:49.9px;font-size:8.3px;color:#dc7e78;line-height:10px;white-space:nowrap">−44.8%</div>
<div class="abs" style="right:109.1px;top:49.9px;font-size:8.3px;color:#d4d8dc;line-height:10px;white-space:nowrap">762</div>
<div class="abs" style="right:3.3px;top:49.9px;font-size:8.3px;color:#7fc45a;line-height:10px;white-space:nowrap">+72.8%</div>
</div>
</body></html>
